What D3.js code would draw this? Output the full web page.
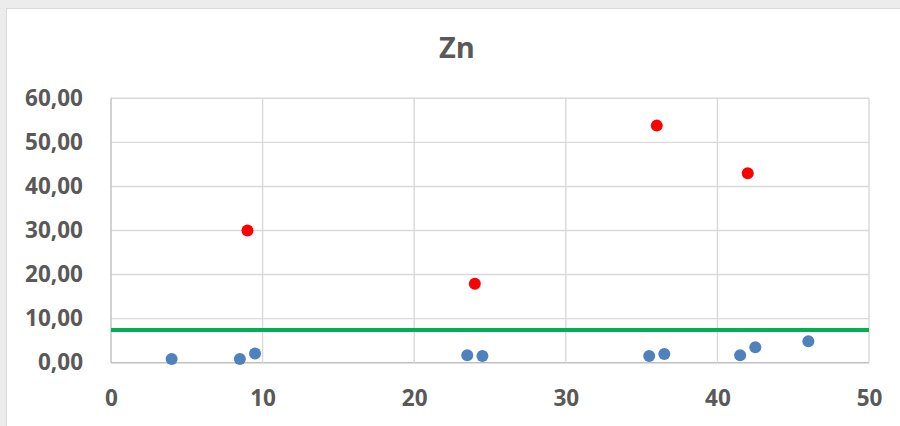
<!DOCTYPE html>
<html>
<head>
<meta charset="utf-8">
<script src="https://cdn.jsdelivr.net/npm/d3@7"></script>
<style>
  html, body { margin: 0; padding: 0; background: #ececec; }
  svg { display: block; }
  text { font-family: "Open Sans", "Noto Sans", sans-serif; }
</style>
</head>
<body>
<script>
// Zn concentrations: routine samples (blue), exceedances (red), limit (green)
const title = "Zn";
const sampleX = [4, 8.5, 9.5, 23.5, 24.5, 35.5, 36.5, 41.5, 42.5, 46];
const sampleY = [0.85, 0.85, 2.1, 1.7, 1.5, 1.5, 2.0, 1.7, 3.5, 4.85];
const exceedX = [9, 24, 36, 42];
const exceedY = [30, 17.9, 53.8, 43.0];
const limitValue = 7.4;
const xTicks = [0, 10, 20, 30, 40, 50];
const yTicks = [0, 10, 20, 30, 40, 50, 60];

const W = 900, H = 426;
const plot = { left: 111, right: 869, top: 98.3, bottom: 362.7 };

const svg = d3.select("body").append("svg").attr("width", W).attr("height", H);

// chart frame
svg.append("rect").attr("x", 0).attr("y", 0).attr("width", W).attr("height", H).attr("fill", "#ececec");
svg.append("rect").attr("x", 6.5).attr("y", 8.5).attr("width", W).attr("height", H)
  .attr("fill", "#ffffff").attr("stroke", "#d9d9d9").attr("stroke-width", 1);

const x = d3.scaleLinear().domain([0, 50]).range([plot.left, plot.right]);
const y = d3.scaleLinear().domain([0, 60]).range([plot.bottom, plot.top]);

// gridlines
const grid = svg.append("g");
grid.selectAll("line.h").data(yTicks).join("line")
  .attr("x1", plot.left).attr("x2", plot.right)
  .attr("y1", d => y(d)).attr("y2", d => y(d))
  .attr("stroke", d => d === 0 ? "#bfbfbf" : "#d9d9d9").attr("stroke-width", 1.4);
grid.selectAll("line.v").data(xTicks).join("line")
  .attr("y1", plot.top).attr("y2", plot.bottom)
  .attr("x1", d => x(d)).attr("x2", d => x(d))
  .attr("stroke", d => d === 0 ? "#bfbfbf" : "#d9d9d9").attr("stroke-width", 1.4);

// axes tick labels
const fmt = v => d3.format(".2f")(v).replace(".", ",");
const yAxis = d3.axisLeft(y).tickValues(yTicks).tickFormat(fmt).tickSize(0).tickPadding(28);
const gy = svg.append("g").attr("transform", `translate(${plot.left},0)`).call(yAxis);
gy.select(".domain").remove();
gy.selectAll("text").attr("fill", "#595959").attr("font-size", 22.5).attr("font-weight", 700)
  .attr("font-family", "Open Sans, sans-serif");

const xAxis = d3.axisBottom(x).tickValues(xTicks).tickFormat(d3.format("d")).tickSize(0).tickPadding(27);
const gx = svg.append("g").attr("transform", `translate(0,${plot.bottom})`).call(xAxis);
gx.select(".domain").remove();
gx.selectAll("text").attr("fill", "#595959").attr("font-size", 22.5).attr("font-weight", 700)
  .attr("font-family", "Open Sans, sans-serif");

// limit line
svg.append("line")
  .attr("x1", x(0)).attr("x2", x(50))
  .attr("y1", y(limitValue)).attr("y2", y(limitValue))
  .attr("stroke", "#00b050").attr("stroke-width", 4);

// points
svg.append("g").selectAll("circle").data(d3.zip(sampleX, sampleY)).join("circle")
  .attr("cx", d => x(d[0])).attr("cy", d => y(d[1])).attr("r", 6)
  .attr("fill", "#4f81bd");
svg.append("g").selectAll("circle").data(d3.zip(exceedX, exceedY)).join("circle")
  .attr("cx", d => x(d[0])).attr("cy", d => y(d[1])).attr("r", 6)
  .attr("fill", "#ff0000");

// title
svg.append("text").attr("x", 457).attr("y", 58).attr("text-anchor", "middle")
  .attr("fill", "#595959").attr("font-size", 29).attr("font-weight", 700)
  .text(title);
</script>
</body>
</html>
